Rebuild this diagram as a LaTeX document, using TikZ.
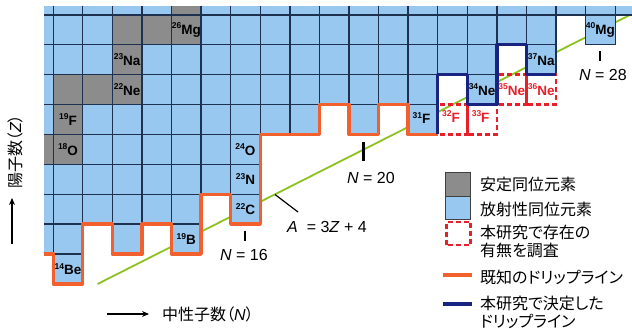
\documentclass[tikz,border=0pt]{standalone}
\usepackage{fontspec}
\setmainfont{Liberation Sans}
\newfontfamily\jp{Noto Sans CJK JP}[RawFeature=+palt]
\usetikzlibrary{arrows.meta}
\definecolor{cblue}{RGB}{152,200,240}
\definecolor{cgray}{RGB}{140,140,140}
\definecolor{cgrid}{RGB}{30,50,80}
\definecolor{corange}{RGB}{242,96,46}
\definecolor{cnavy}{RGB}{24,36,128}
\definecolor{cred}{RGB}{232,30,40}
\definecolor{cgreen}{RGB}{140,194,32}
\tikzset{
 bcell/.style={fill=cblue},
 gcell/.style={fill=cgray},
 gridline/.style={draw=cgrid, line width=1.4pt},
 knownline/.style={draw=corange, line width=3.4pt, line join=round},
 newline/.style={draw=cnavy, line width=3.2pt, line join=round},
 probe/.style={draw=cred, line width=2.6pt, dash pattern=on 5pt off 3pt},
 magic/.style={draw=cgreen, line width=1.8pt},
 iso/.style={font=\fontsize{13.5}{14}\selectfont\bfseries, inner sep=0pt, text=black},
 isor/.style={iso, text=cred},
 ticky/.style={draw=black, line width=2.4pt},
 numlab/.style={font=\fontsize{16}{16}\selectfont, inner sep=0pt},
 legtext/.style={font=\jp\fontsize{16}{18}\selectfont, anchor=west, inner sep=0pt},
 axlab/.style={font=\jp\fontsize{16}{16}\selectfont, inner sep=0pt},
 axarrow/.style={draw=black, line width=1.3pt, -{Stealth[length=7pt,width=6pt]}},
}
\newcommand\isotxt[2]{\raisebox{0.75ex}{\fontsize{8.5}{9}\selectfont#1}#2}
\newcommand\rowlist{13/9/29,12/9/26,11/9/24,10/9/22,9/9/18,8/9/16,7/9/16,6/9/14}
\newcommand\extralist{28/12,26/11,24/10,20/9,22/9,16/6,9/5,10/5,12/5,14/5,10/4}
\newcommand\graylist{14/13,12/12,13/12,14/12,12/11,10/10,11/10,12/10,10/9,9/8,10/8}
\begin{document}
\begin{tikzpicture}
\useasboundingbox (0,0) rectangle (632pt,329pt);
\begin{scope}
\clip (44pt,0pt) rectangle (632pt,322pt);
\begin{scope}[shift={(-242.6pt,-74.6pt)}, x=29.58pt, y=29.9pt]
% A = 3Z + 4 line (behind the cells)
\draw[magic] (11.5,4) -- (30.5,13.5);
% radioactive cells
\fill[bcell] foreach \z/\a/\b in \rowlist {foreach \n in {\a,...,\b} {(\n,\z) rectangle ++(1,1)}}
  foreach \n/\z in \extralist {(\n,\z) rectangle ++(1,1)};
% stable cells
\fill[gcell] foreach \n/\z in \graylist {(\n,\z) rectangle ++(1,1)};
% grid lines, stroked once
\draw[gridline] foreach \z/\a/\b in \rowlist {foreach \n in {\a,...,\b} {(\n,\z) rectangle ++(1,1)}}
  foreach \n/\z in \extralist {(\n,\z) rectangle ++(1,1)};
% probed cells
\draw[probe] (23,9) rectangle (24,10);
\draw[probe] (24,9) rectangle (25,10);
\draw[probe] (25,10) rectangle (26,11);
\draw[probe] (26,10) rectangle (27,11);
% known drip line
\draw[knownline] (9.69,5) -- (10,5) -- (10,4) -- (11,4) -- (11,6) -- (12,6) -- (12,5)
  -- (13,5) -- (13,6) -- (14,6) -- (14,5) -- (15,5) -- (15,7) -- (16,7) -- (16,6)
  -- (17,6) -- (17,9) -- (19,9) -- (19,10) -- (20,10) -- (20,9) -- (21,9) -- (21,10)
  -- (22,10) -- (22,9) -- (23,9);
% new drip line
\draw[newline] (23,9) -- (23,11) -- (24,11) -- (24,10) -- (25,10) -- (25,12)
  -- (26,12) -- (26,11) -- (27,11);
% isotope labels
\node[iso] (mg26) at (14.5,12.5) {\isotxt{26}{Mg}};
\node[iso] (na23) at (12.5,11.5) {\isotxt{23}{Na}};
\node[iso] (ne22) at (12.5,10.5) {\isotxt{22}{Ne}};
\node[iso] (f19) at (10.5,9.5) {\isotxt{19}{F}};
\node[iso] (o18) at (10.5,8.5) {\isotxt{18}{O}};
\node[iso] (o24) at (16.5,8.5) {\isotxt{24}{O}};
\node[iso] (n23) at (16.5,7.5) {\isotxt{23}{N}};
\node[iso] (c22) at (16.5,6.5) {\isotxt{22}{C}};
\node[iso] (b19) at (14.5,5.5) {\isotxt{19}{B}};
\node[iso] (be14) at (10.5,4.5) {\isotxt{14}{Be}};
\node[iso] (f31) at (22.45,9.55) {\isotxt{31}{F}};
\node[iso] (ne34) at (24.5,10.5) {\isotxt{34}{Ne}};
\node[iso] (na37) at (26.5,11.5) {\isotxt{37}{Na}};
\node[iso] (mg40) at (28.5,12.5) {\isotxt{40}{Mg}};
\node[isor] (f32) at (23.45,9.6) {\isotxt{32}{F}};
\node[isor] (f33) at (24.45,9.6) {\isotxt{33}{F}};
\node[isor] (ne35) at (25.5,10.5) {\isotxt{35}{Ne}};
\node[isor] (ne36) at (26.5,10.5) {\isotxt{36}{Ne}};
\end{scope}
\end{scope}
% magic number markers
\draw[ticky] (245pt,88pt) -- (245pt,98pt);
\node[numlab] (n16) at (244pt,74pt) {\textit{N} = 16};
\draw[ticky] (363.6pt,168pt) -- (363.6pt,187pt);
\node[numlab] (n20) at (371pt,151pt) {\textit{N} = 20};
\draw[ticky] (600pt,268pt) -- (600pt,278pt);
\node[numlab] (n28) at (603pt,254pt) {\textit{N} = 28};
% A = 3Z + 4
\coordinate (aline) at (275pt,134.5pt);
\node[numlab, anchor=west] (alab) at (287pt,102pt) {\textit{A}\ \ = 3\textit{Z} + 4};
\draw[black, line width=1.2pt] (aline) -- (298pt,117pt);
% axes
\coordinate (xa0) at (107pt,15pt);
\coordinate (xa1) at (149pt,15pt);
\draw[axarrow] (xa0) -- (xa1);
\node[axlab, anchor=west] (xlab) at (162pt,15pt) {中性子数（{\normalfont\itshape N}）};
\coordinate (ya0) at (12pt,85pt);
\coordinate (ya1) at (12pt,131pt);
\draw[axarrow] (ya0) -- (ya1);
\node[axlab, rotate=90] (ylab) at (15pt,177pt) {陽子数（{\normalfont\itshape Z}）};
% legend
\draw[fill=cgray, draw=black!75, line width=1pt] (445pt,132pt) rectangle (470pt,156pt);
\draw[fill=cblue, draw=black!75, line width=1pt] (445pt,109pt) rectangle (470pt,132pt);
\draw[probe] (446.5pt,84pt) rectangle (470.5pt,107pt);
\draw[knownline] (443pt,54pt) -- (472pt,54pt);
\draw[newline] (443pt,25pt) -- (472pt,25pt);
\node[legtext] (lg1) at (480pt,145pt) {安定同位元素};
\node[legtext] (lg2) at (480pt,120pt) {放射性同位元素};
\node[legtext] (lg3) at (480pt,97pt) {本研究で存在の};
\node[legtext] (lg4) at (480pt,79pt) {有無を調査};
\node[legtext] (lg5) at (480pt,52pt) {既知のドリップライン};
\node[legtext] (lg6) at (480pt,26pt) {本研究で決定した};
\node[legtext] (lg7) at (480pt,8pt) {ドリップライン};
\end{tikzpicture}
\end{document}
